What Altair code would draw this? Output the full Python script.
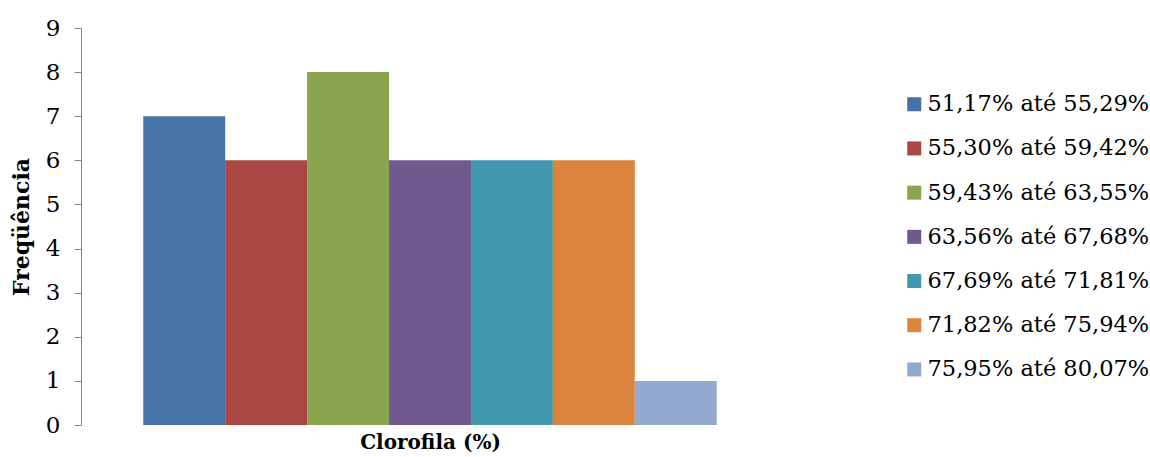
import altair as alt
import pandas as pd

categories = [
    "51,17% até 55,29%",
    "55,30% até 59,42%",
    "59,43% até 63,55%",
    "63,56% até 67,68%",
    "67,69% até 71,81%",
    "71,82% até 75,94%",
    "75,95% até 80,07%",
]
frequencies = [7, 6, 8, 6, 6, 6, 1]
colors = ["#4572A7", "#AA4643", "#89A54E", "#71588F", "#4198AF", "#DB843D", "#93A9CF"]

df = pd.DataFrame({"faixa": categories, "freq": frequencies})

FONT = "DejaVu Serif"

chart = alt.Chart(df).mark_bar().encode(
    x=alt.X(
        "faixa:N",
        sort=categories,
        scale=alt.Scale(paddingInner=0, paddingOuter=0.76),
        axis=alt.Axis(
            title="Clorofila (%)", labels=False, ticks=False, domain=False,
            titleFont=FONT, titleFontSize=20, titleFontWeight="bold",
            titleColor="black", titlePadding=7,
        ),
    ),
    y=alt.Y(
        "freq:Q",
        scale=alt.Scale(domain=[0, 9], nice=False),
        axis=alt.Axis(
            title="Freqüência", values=list(range(10)), grid=False,
            tickCount=10, format="d",
            labelFont=FONT, labelFontSize=23, labelColor="black", labelPadding=14,
            tickColor="#868686", domainColor="#868686", tickSize=7,
            titleFont=FONT, titleFontSize=22, titleFontWeight="bold",
            titleColor="black", titlePadding=12,
        ),
    ),
    color=alt.Color(
        "faixa:N",
        sort=categories,
        scale=alt.Scale(domain=categories, range=colors),
        legend=alt.Legend(
            title=None, orient="none", legendX=822, legendY=65,
            symbolType="square", symbolSize=196, symbolStrokeWidth=0,
            symbolOpacity=1,
            labelFont=FONT, labelFontSize=22.5, labelColor="black",
            labelLimit=400, rowPadding=21.2, labelOffset=2,
        ),
    ),
).properties(
    width=698,
    height=397,
    autosize=alt.AutoSizeParams(type="none"),
    padding={"left": 81, "top": 28, "right": 371, "bottom": 32},
).configure_view(stroke=None)

chart.save("out.html", embed_options={"renderer": "svg", "actions": False})
